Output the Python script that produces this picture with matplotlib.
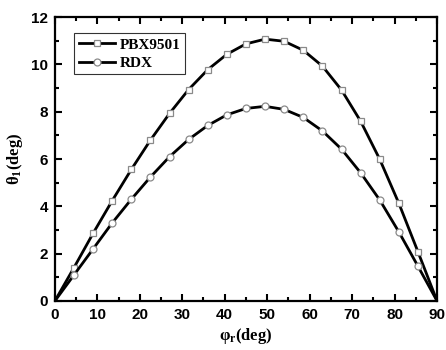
import matplotlib

matplotlib.use("Agg")
import matplotlib.pyplot as plt
from matplotlib.ticker import MultipleLocator

# incidence angle (deg) sampled every 4.5 deg
phi = [0, 4.5, 9, 13.5, 18, 22.5, 27, 31.5, 36, 40.5, 45,
       49.5, 54, 58.5, 63, 67.5, 72, 76.5, 81, 85.5, 90]
theta_pbx = [0, 1.41, 2.86, 4.24, 5.56, 6.80, 7.93, 8.94, 9.78, 10.43, 10.87,
             11.07, 10.98, 10.60, 9.93, 8.92, 7.60, 5.99, 4.13, 2.08, 0]
theta_rdx = [0, 1.10, 2.20, 3.30, 4.30, 5.24, 6.10, 6.83, 7.42, 7.87, 8.14,
             8.23, 8.10, 7.76, 7.19, 6.42, 5.42, 4.27, 2.92, 1.47, 0]

fig = plt.figure(figsize=(4.46, 3.5), dpi=100)
ax = fig.add_axes([0.123, 0.14, 0.857, 0.811])

common = dict(color="black", lw=2.0, ms=5.0, mfc="white", mec="#8a8a8a",
              mew=0.9, markevery=slice(1, -1))
ax.plot(phi, theta_pbx, marker="s", label="PBX9501", **common)
ax.plot(phi, theta_rdx, marker="o", label="RDX", **common)

ax.set_xlim(0, 90)
ax.set_ylim(0, 12)
ax.xaxis.set_major_locator(MultipleLocator(10))
ax.xaxis.set_minor_locator(MultipleLocator(5))
ax.yaxis.set_major_locator(MultipleLocator(2))
ax.yaxis.set_minor_locator(MultipleLocator(1))
ax.tick_params(which="both", direction="in", top=True, right=True, width=1.5)
ax.tick_params(which="major", length=5, pad=5)
ax.tick_params(which="minor", length=3)
for s in ax.spines.values():
    s.set_linewidth(1.6)
for lab in ax.get_xticklabels() + ax.get_yticklabels():
    lab.set_fontfamily("Liberation Sans")
    lab.set_fontweight("bold")
    lab.set_fontsize(11)

serif = {"family": "Liberation Serif", "weight": "bold", "size": 12}
ax.set_xlabel(r"$\mathregular{\varphi_r}$(deg)", fontdict=serif, labelpad=3)
ax.set_ylabel(r"$\mathregular{\theta_1}$(deg)", fontdict=serif, labelpad=4)

leg = ax.legend(loc="upper left", bbox_to_anchor=(0.03, 0.97),
                prop={"family": "Liberation Serif", "weight": "bold", "size": 11},
                frameon=True, fancybox=False, edgecolor="black",
                handlelength=2.4, borderpad=0.3, labelspacing=0.3, handletextpad=0.3)
leg.get_frame().set_linewidth(0.8)

fig.savefig("out.png", dpi=100)
